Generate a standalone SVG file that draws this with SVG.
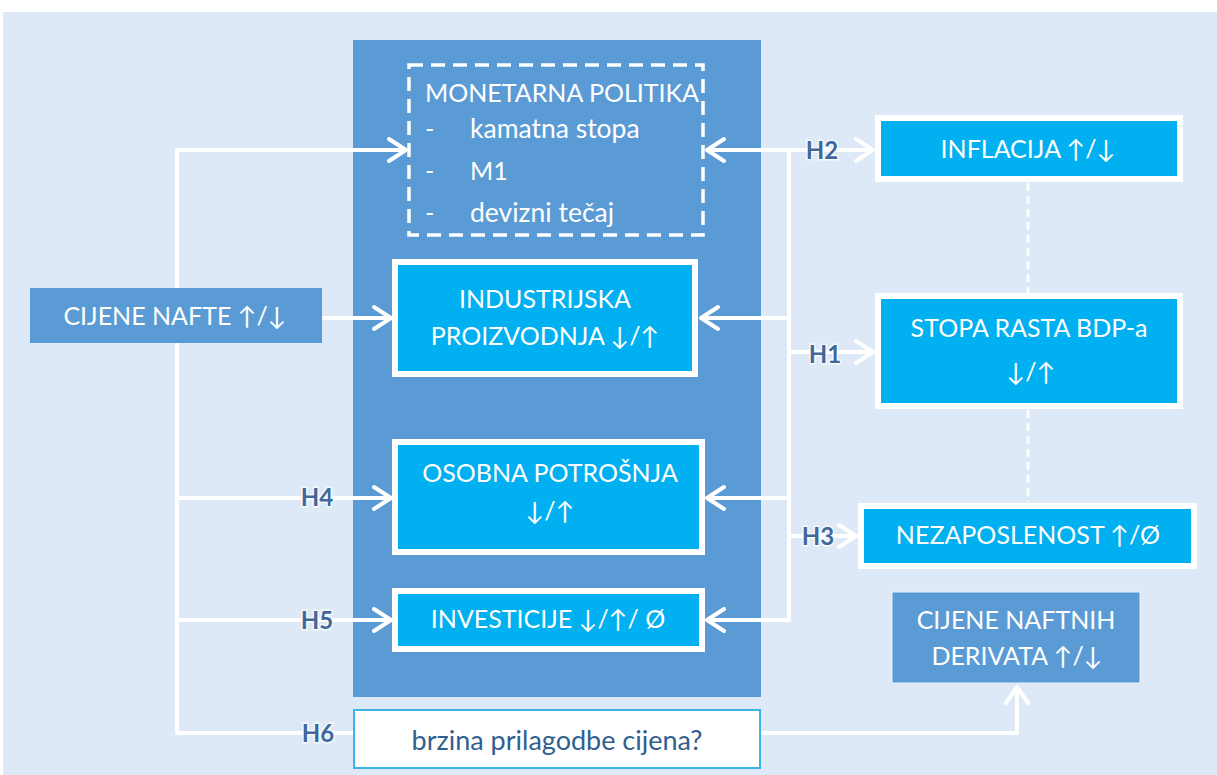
<svg xmlns="http://www.w3.org/2000/svg" width="1217" height="775" viewBox="0 0 1217 775">
<defs>
<style>
.t{font-family:Lato,"Liberation Sans",sans-serif;font-size:25px;fill:#fff;text-anchor:middle}
.l{font-family:Lato,"Liberation Sans",sans-serif;font-size:25px;fill:#fff}
.lc{font-size:26.5px}
.h{font-family:Lato,"Liberation Sans",sans-serif;font-size:24px;font-weight:bold;fill:#41689b;text-anchor:middle;stroke:#fff;stroke-opacity:0.75;stroke-width:3;paint-order:stroke}
.cy{fill:#00b0f0;stroke:#fff;stroke-width:6}
.bl{fill:#5b9bd5}
.ln{fill:none;stroke:#fff;stroke-width:4;stroke-linecap:round;stroke-linejoin:round}
.ds{fill:none;stroke:#fff;stroke-width:3;stroke-dasharray:8 5;opacity:0.9}
</style>
</defs>
<rect x="0" y="0" width="1217" height="775" fill="#fff"/>
<rect x="3" y="12" width="1214" height="763" fill="#dde9f6"/>

<g id="panel"><rect class="bl" x="353" y="40" width="408" height="657"/></g>

<g id="connectors">
<path class="ln" d="M177,150 V733"/>
<path class="ln" d="M177,150 H405 M389,139 L406,150 L389,161"/>
<path class="ln" d="M323,318 H390 M374,307 L391,318 L374,329"/>
<path class="ln" d="M177,498 H390 M374,487 L391,498 L374,509"/>
<path class="ln" d="M177,620 H390 M374,609 L391,620 L374,631"/>
<path class="ln" d="M177,733 H353"/>
<path class="ln" d="M789,150 V620"/>
<path class="ln" d="M789,150 H708 M724,139 L707,150 L724,161"/>
<path class="ln" d="M789,318 H702 M718,307 L701,318 L718,329"/>
<path class="ln" d="M789,498 H708 M724,487 L707,498 L724,509"/>
<path class="ln" d="M789,620 H708 M724,609 L707,620 L724,631"/>
<path class="ln" d="M789,150 H872 M856,139 L873,150 L856,161"/>
<path class="ln" d="M789,352 H872 M856,341 L873,352 L856,363"/>
<path class="ln" d="M789,536 H855 M839,525 L856,536 L839,547"/>
<path class="ln" d="M761,733 H1017 V688 M1006,703 L1017,687 L1028,703"/>
<path class="ds" d="M1028,183 V293 M1028,410 V502"/>
</g>

<g id="monetarna">
<rect x="409" y="65" width="294" height="170" fill="none" stroke="#fff" stroke-width="3.5" stroke-dasharray="14 8"/>
<text class="l" x="425" y="102">MONETARNA POLITIKA</text>
<text class="l" x="425" y="138">-</text><text class="l lc" x="470" y="138">kamatna stopa</text>
<text class="l" x="425" y="180">-</text><text class="l" x="470" y="180">M1</text>
<text class="l" x="425" y="222">-</text><text class="l lc" x="470" y="222">devizni tečaj</text>
</g>

<g id="industrijska">
<rect class="cy" x="395" y="262" width="300" height="112"/>
<text class="t" x="545" y="308">INDUSTRIJSKA</text>
<text class="t" x="545" y="345">PROIZVODNJA ↓/↑</text>
</g>

<g id="osobna">
<rect class="cy" x="395" y="442" width="307" height="110"/>
<text class="t" x="550" y="482">OSOBNA POTROŠNJA</text>
<text class="t" x="550" y="520">↓/↑</text>
</g>

<g id="investicije">
<rect class="cy" x="395" y="591" width="307" height="58"/>
<text class="t" x="548" y="628">INVESTICIJE ↓/↑/ Ø</text>
</g>

<g id="brzina">
<rect x="354" y="710" width="406" height="58" fill="#fff" stroke="#3cb4e8" stroke-width="2"/>
<text class="t" x="557" y="750" style="fill:#2f5f8f;font-size:27px">brzina prilagodbe cijena?</text>
</g>

<g id="nafte">
<rect class="bl" x="30" y="288" width="292" height="55"/>
<text class="t" x="175" y="325">CIJENE NAFTE ↑/↓</text>
</g>

<g id="inflacija">
<rect class="cy" x="878" y="118" width="302" height="61"/>
<text class="t" x="1028" y="158">INFLACIJA ↑/↓</text>
</g>

<g id="stopa">
<rect class="cy" x="878" y="296" width="302" height="110"/>
<text class="t" x="1029" y="337">STOPA RASTA BDP-a</text>
<text class="t" x="1031" y="381">↓/↑</text>
</g>

<g id="nezaposlenost">
<rect class="cy" x="861" y="506" width="333" height="60"/>
<text class="t" x="1028" y="544">NEZAPOSLENOST ↑/Ø</text>
</g>

<g id="derivati">
<rect class="bl" x="892" y="592" width="248" height="91" stroke="#e8f1fa" stroke-width="1"/>
<text class="t" x="1016" y="629">CIJENE NAFTNIH</text>
<text class="t" x="1017" y="665">DERIVATA ↑/↓</text>
</g>

<g id="labels">
<text class="h" x="822" y="159">H2</text>
<text class="h" x="825" y="363">H1</text>
<text class="h" x="818" y="545">H3</text>
<text class="h" x="317" y="506">H4</text>
<text class="h" x="317" y="629">H5</text>
<text class="h" x="318" y="742">H6</text>
</g>
</svg>
